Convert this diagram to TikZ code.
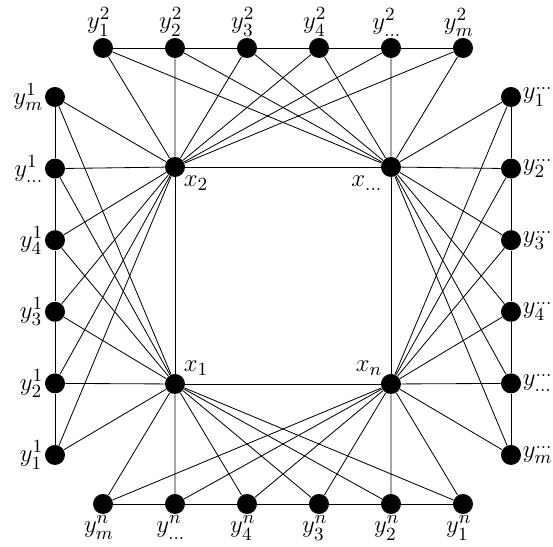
\documentclass[tikz,border=0pt]{standalone}
\usepackage{amsmath,amssymb}
\usetikzlibrary{calc}

\begin{document}
\begin{tikzpicture}[x=0.017cm,y=-0.017cm]
	\tikzset{dot/.style={circle,fill=black,inner sep=0pt,minimum size=0.34cm},
		every label/.style={inner sep=0.5pt,font=\fontsize{13}{15}\selectfont}}
	\clip (0,0) rectangle (553,547);
	\useasboundingbox (0,0) rectangle (553,547);
	% centre
	\node[dot,label=below right:$x_2$] (x2) at (175,167) {};
	\node[dot,label=below left:$x_{\ldots}$] (xd) at (391,167) {};
	\node[dot,label=above right:$x_1$] (x1) at (175,384) {};
	\node[dot,label=above left:$x_n$] (xn) at (391,384) {};
	% outer
	\foreach \s [count=\i] in {1,2,3,4,\ldots,m}{
		\node[dot,label={[xshift=-2pt]above:$y^2_{\s}$}] (t\i) at ({103+72*(\i-1)},48) {};
		\node[dot,label=right:$y^{\ldots}_{\s}$] (r\i) at (511,{97+71.6*(\i-1)}) {};
	}
	\foreach \s [count=\i] in {m,\ldots,4,3,2,1}{
		\node[dot,label=left:$y^1_{\s}$] (l\i) at (55,{97+71.6*(\i-1)}) {};
		\node[dot,label={[xshift=-2pt]below:$y^n_{\s}$}] (b\i) at ({103+72*(\i-1)},504) {};
	}
	\draw (x2) -- (xd) -- (xn) -- (x1) -- (x2);
	\foreach \i/\j in {1/2,2/3,3/4,4/5,5/6}{
		\draw (t\i) -- (t\j);
		\draw (l\i) -- (l\j);
		\draw (r\i) -- (r\j);
		\draw (b\i) -- (b\j);
	}
	\foreach \i in {1,...,6}{
		\draw (t\i) -- (x2) (t\i) -- (xd);
		\draw (l\i) -- (x2) (l\i) -- (x1);
		\draw (r\i) -- (xd) (r\i) -- (xn);
		\draw (b\i) -- (x1) (b\i) -- (xn);
	}
\end{tikzpicture}
\end{document}
